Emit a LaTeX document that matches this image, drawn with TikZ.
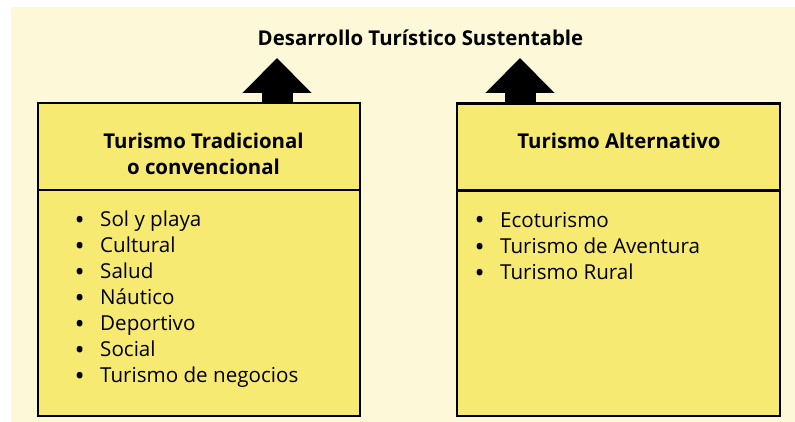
\documentclass[tikz,border=0pt]{standalone}
\usepackage{fontspec}
\setmainfont{Open Sans}
\usetikzlibrary{arrows.meta,positioning}
\definecolor{fondo}{HTML}{FDF8D8}
\definecolor{amarillo}{HTML}{F7EA73}
\newcommand{\vineta}{\makebox[25.5pt][l]{\raisebox{-2.5pt}{\fontsize{27}{27}\selectfont\textbullet}}}

\begin{document}
\begin{tikzpicture}[x=1pt,y=-1pt,
    caja/.style={draw, line width=2.5pt, fill=amarillo, inner sep=0pt},
    cabecera/.style={font=\fontsize{20.4}{26.7}\selectfont\bfseries, align=center, anchor=base},
    item/.style={font=\fontsize{20.6}{26}\selectfont, anchor=base west, inner sep=0pt},
    flecha/.style={line width=31pt, -{Triangle[width=67pt,length=35pt]}}]
   		\useasboundingbox (0,0) rectangle (795,422);
   		\fill[white] (0,0) rectangle (795,422);
   		\fill[fondo] (11,7) rectangle (795,422);
   		% titulo
   		\node[font=\fontsize{20.4}{24}\selectfont\bfseries, anchor=base] (des) at (420.5,46) {Desarrollo Turístico Sustentable};
   		% cajas
   		\node[caja, minimum width=322pt, minimum height=87pt] (trad) at (199,146.5) {};
   		\node[caja, minimum width=322pt, minimum height=226pt] (tradlista) at (199,303) {};
   		\node[caja, minimum width=323pt, minimum height=87pt] (alt) at (618.5,147) {};
   		\node[caja, minimum width=323pt, minimum height=225pt] (altlista) at (618.5,303.5) {};
   		\node[cabecera] (tradtxt) at (203.5,175) {Turismo Tradicional\\ o convencional};
   		\node[cabecera] (alttxt) at (619,149) {Turismo Alternativo};
   		% flechas
   		\coordinate (ptrad) at (277,58);
   		\coordinate (palt) at (520,58);
   		\draw[flecha] (trad.north -| ptrad) -- (ptrad);
   		\draw[flecha] (alt.north -| palt) -- (palt);
   		% listas
   		\foreach \t [count=\i] in {Sol y playa, Cultural, Salud, Náutico, Deportivo, Social, Turismo de negocios}
   			\node[item] (t\i) at (74.5,{226.7+26*(\i-1)}) {\vineta\t};
   		\foreach \t [count=\i] in {Ecoturismo, Turismo de Aventura, Turismo Rural}
   			\node[item] (a\i) at (474.5,{227.2+26.3*(\i-1)}) {\vineta\t};
   	\end{tikzpicture}
\end{document}
